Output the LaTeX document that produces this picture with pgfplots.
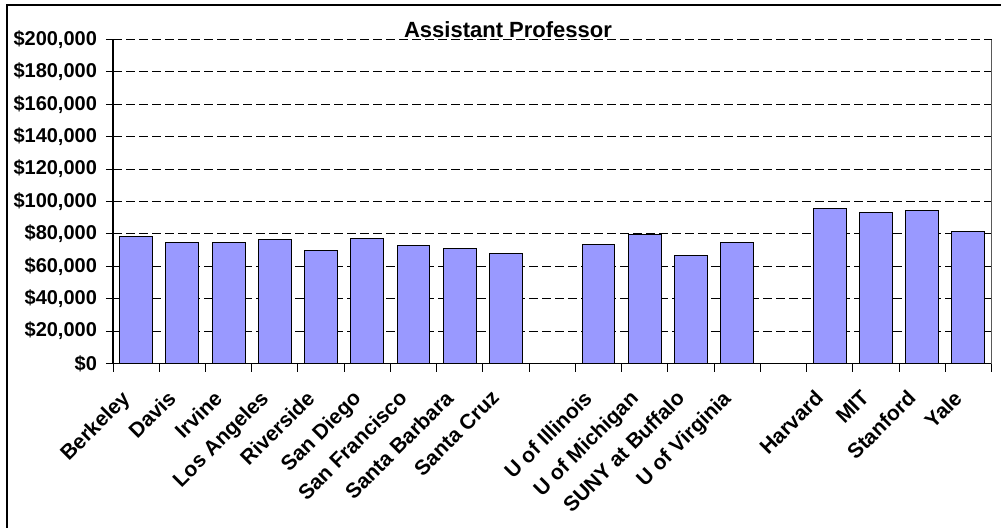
\documentclass[border=0pt]{standalone}
\usepackage{pgfplots}
\pgfplotsset{compat=1.18}
\usepackage{fontspec}
\setmainfont{Liberation Sans}
\definecolor{barblue}{HTML}{9999FF}

\begin{document}
\begin{tikzpicture}
% page: 1001 x 527 px at 0.5pt per px
\useasboundingbox (0,0) rectangle (500.5pt,263.5pt);
\begin{axis}[
    at={(56.5pt,81.75pt)}, anchor=south west,
    scale only axis,
    width=439.25pt, height=162pt,
    xmin=-0.5, xmax=18.5,
    ymin=0, ymax=200000,
    axis x line=bottom, axis y line=left,
    axis line style={-, black, line width=0.6pt},
    xtick={0,...,18},
    xticklabels={Berkeley,Davis,Irvine,Los Angeles,Riverside,San Diego,San Francisco,Santa Barbara,Santa Cruz,{},U of Illinois,U of Michigan,SUNY at Buffalo,U of Virginia,{},Harvard,MIT,Stanford,Yale},
    major x tick style={draw=none},
    minor xtick={-0.5,0.5,...,18.5},
    minor tick length=4pt,
    minor x tick style={black, line width=0.5pt},
    xticklabel style={xshift=-8pt, yshift=-9pt, rotate=45, anchor=north east, inner sep=0pt, font=\bfseries\fontsize{10.5}{10.5}\selectfont},
    ytick={0,20000,...,200000},
    major tick length=3.5pt,
    tick align=outside,
    y tick style={black, line width=0.5pt},
    scaled y ticks=false,
    yticklabel={\$\pgfmathprintnumber[fixed,precision=0,1000 sep={,}]{\tick}},
    yticklabel style={xshift=-1pt, font=\bfseries\fontsize{10}{10}\selectfont},
    /pgf/number format/assume math mode=true,
    ymajorgrids,
    major grid style={black, line width=0.5pt, dash pattern=on 4.5pt off 2pt},
    bar width=0.71,
    clip=false,
]
\addplot[ybar, fill=barblue, draw=black, line width=0.5pt] coordinates {
    (0,78500) (1,74400) (2,74400) (3,76850) (4,69450) (5,77450) (6,72950) (7,71300) (8,68000)
    (10,73750) (11,79500) (12,66550) (13,74550)
    (15,95550) (16,93500) (17,94550) (18,81600)
};
\draw[gray!70!black, line width=0.5pt] (rel axis cs:1,0) -- (rel axis cs:1,1);
\end{axis}
\node[anchor=base, fill=white, inner sep=1pt, font=\bfseries\fontsize{11}{11}\selectfont] at (254pt,245pt) {Assistant Professor};
% chart frame (left and top edges)
\draw[black, line width=1pt] (3.25pt,-5pt) -- (3.25pt,261pt) -- (505pt,261pt);
\end{tikzpicture}
\end{document}
